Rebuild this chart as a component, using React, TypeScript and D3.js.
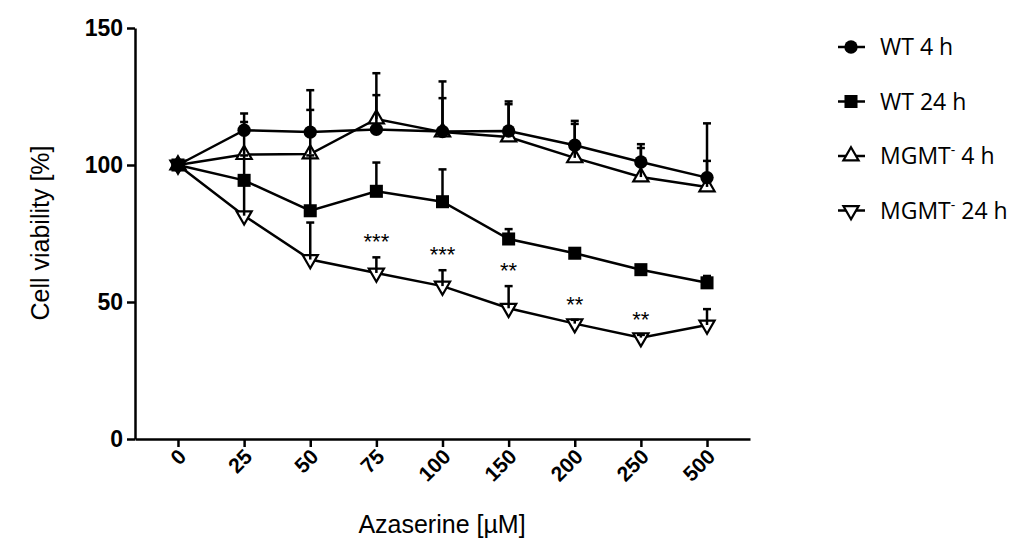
import React, { useEffect, useRef } from 'react';
import * as d3 from 'd3';

const doses = ['0', '25', '50', '75', '100', '150', '200', '250', '500'];

const wt4 = [100, 112.7, 112.0, 113.0, 112.2, 112.4, 107.2, 101.1, 95.4];
const wt4Err = [100, 115.7, 120.1, 125.5, 124.4, 122.2, 115.0, 106.2, 115.2];
const wt24 = [100, 94.4, 83.3, 90.4, 86.6, 73.0, 67.8, 61.8, 57.0];
const wt24Err = [100, 103.5, 103.5, 100.9, 98.4, 76.6, 69.6, 62.5, 59.5];
const mgmt4 = [100, 103.8, 104.0, 116.8, 112.0, 110.2, 102.6, 95.6, 92.0];
const mgmt4Err = [100, 118.8, 127.3, 133.5, 130.5, 123.2, 116.1, 107.6, 101.5];
const mgmt24 = [100, 81.5, 65.5, 60.6, 55.8, 47.7, 42.1, 37.0, 41.6];
const mgmt24Err = [100, 96, 79, 66.3, 61.6, 55.8, 43.5, 38.0, 47.4];

const stars = ['', '', '', '***', '***', '**', '**', '**', ''];
const yTicks = [0, 50, 100, 150];

const W = 1031;
const H = 538;

type Series = {
  name: string;
  sup: boolean;
  values: number[];
  err: number[];
  shape: 'circle' | 'square' | 'up' | 'down';
};

const series: Series[] = [
  { name: 'WT 4 h', sup: false, values: wt4, err: wt4Err, shape: 'circle' },
  { name: 'WT 24 h', sup: false, values: wt24, err: wt24Err, shape: 'square' },
  { name: ' 4 h', sup: true, values: mgmt4, err: mgmt4Err, shape: 'up' },
  { name: ' 24 h', sup: true, values: mgmt24, err: mgmt24Err, shape: 'down' },
];

// draw order: hollow markers first, filled on top
const drawOrder = [3, 2, 0, 1];

const symbolPath = (shape: Series['shape']) => {
  if (shape === 'circle') return d3.symbol().type(d3.symbolCircle).size(140)()!;
  if (shape === 'square') return d3.symbol().type(d3.symbolSquare).size(170)()!;
  return d3.symbol().type(d3.symbolTriangle).size(100)()!;
};

const App = () => {
  const ref = useRef<SVGSVGElement>(null);

  useEffect(() => {
    if (!ref.current) return;
    const svg = d3.select(ref.current);
    svg.selectAll('*').remove();

    const x = d3.scalePoint<string>().domain(doses).range([135, 750]).padding(0.65);
    const y = d3.scaleLinear().domain([0, 150]).range([439, 28]);

    // axes
    const yAxis = svg.append('g')
      .attr('transform', 'translate(135,0)')
      .call(d3.axisLeft(y).tickValues(yTicks).tickSize(8).tickSizeOuter(0).tickPadding(4));
    yAxis.select('.domain').attr('stroke', '#000').attr('stroke-width', 2.5);
    yAxis.selectAll('.tick line').attr('stroke', '#000').attr('stroke-width', 2.5);
    yAxis.selectAll('.tick text')
      .attr('fill', '#000')
      .style('font-family', '"Liberation Sans", Arial, sans-serif')
      .style('font-weight', 'bold')
      .style('font-size', '23px');

    const xAxis = svg.append('g')
      .attr('transform', 'translate(0,439)')
      .call(d3.axisBottom(x).tickSize(8).tickSizeOuter(0).tickPadding(4));
    xAxis.select('.domain').attr('stroke', '#000').attr('stroke-width', 2.5);
    xAxis.selectAll('.tick line').attr('stroke', '#000').attr('stroke-width', 2.5);
    xAxis.selectAll('.tick text')
      .attr('fill', '#000')
      .attr('text-anchor', 'end')
      .attr('dy', null)
      .attr('y', 0)
      .attr('transform', 'translate(9,19) rotate(-45)')
      .style('font-family', '"Liberation Sans", Arial, sans-serif')
      .style('font-weight', 'bold')
      .style('font-size', '21px');

    // axis titles
    svg.append('text')
      .attr('x', 442)
      .attr('y', 533)
      .attr('text-anchor', 'middle')
      .style('font-family', '"Liberation Sans", Arial, sans-serif')
      .style('font-size', '25px')
      .text('Azaserine [µM]');

    svg.append('text')
      .attr('transform', `translate(49,233) rotate(-90)`)
      .attr('text-anchor', 'middle')
      .style('font-family', '"Liberation Sans", Arial, sans-serif')
      .style('font-size', '25px')
      .text('Cell viability [%]');

    const line = d3.line<number>()
      .x((_, i) => x(doses[i])!)
      .y(d => y(d));

    drawOrder.forEach(si => {
      svg.append('path')
        .attr('d', line(series[si].values))
        .attr('fill', 'none')
        .attr('stroke', '#000')
        .attr('stroke-width', 2.5);
    });

    drawOrder.forEach(si => {
      const s = series[si];
      const filled = s.shape === 'circle' || s.shape === 'square';
      svg.append('g')
        .selectAll('path')
        .data(s.values)
        .enter()
        .append('path')
        .attr('d', symbolPath(s.shape))
        .attr('transform', (d, i) =>
          `translate(${x(doses[i])},${y(d)})` + (s.shape === 'down' ? ' rotate(180)' : ''))
        .attr('fill', filled ? '#000' : '#fff')
        .attr('stroke', '#000')
        .attr('stroke-width', filled ? 0 : 2.2);
    });

    // error bars (upper only), drawn over the markers like the original
    drawOrder.forEach(si => {
      const s = series[si];
      const g = svg.append('g');
      s.err.forEach((e, i) => {
        if (e <= s.values[i]) return;
        const cx = x(doses[i])!;
        g.append('line')
          .attr('x1', cx).attr('x2', cx)
          .attr('y1', y(s.values[i])).attr('y2', y(e))
          .attr('stroke', '#000').attr('stroke-width', 2.5);
        g.append('line')
          .attr('x1', cx - 4).attr('x2', cx + 4)
          .attr('y1', y(e)).attr('y2', y(e))
          .attr('stroke', '#000').attr('stroke-width', 2.5);
      });
    });

    // significance stars above MGMT- 24 h
    svg.append('g')
      .selectAll('text')
      .data(stars)
      .enter()
      .append('text')
      .attr('x', (_, i) => x(doses[i])!)
      .attr('y', (_, i) => y(mgmt24Err[i]) - 8)
      .attr('text-anchor', 'middle')
      .style('font-family', '"Liberation Sans", Arial, sans-serif')
      .style('font-size', '22px')
      .text(d => d);

    // legend
    const legend = svg.append('g');
    series.forEach((s, i) => {
      const ly = 47 + i * 54.5;
      const filled = s.shape === 'circle' || s.shape === 'square';
      legend.append('line')
        .attr('x1', 838).attr('x2', 865)
        .attr('y1', ly).attr('y2', ly)
        .attr('stroke', '#000').attr('stroke-width', 2.5);
      legend.append('path')
        .attr('d', symbolPath(s.shape))
        .attr('transform', `translate(851,${ly})` + (s.shape === 'down' ? ' rotate(180)' : ''))
        .attr('fill', filled ? '#000' : '#fff')
        .attr('stroke', '#000')
        .attr('stroke-width', filled ? 0 : 2.2);
      const t = legend.append('text')
        .attr('x', 880)
        .attr('y', ly + 8)
        .style('font-family', '"Open Sans", sans-serif')
        .style('font-size', '23px');
      if (s.sup) {
        t.append('tspan').text('MGMT');
        t.append('tspan').attr('dy', -9).style('font-size', '14px').text('-');
        t.append('tspan').attr('dy', 9).text(s.name);
      } else {
        t.text(s.name);
      }
    });
  }, []);

  return (
    <svg
      ref={ref}
      width={W}
      height={H}
      style={{ position: 'absolute', left: 0, top: 0, background: '#fff' }}
    />
  );
};

export default App;
